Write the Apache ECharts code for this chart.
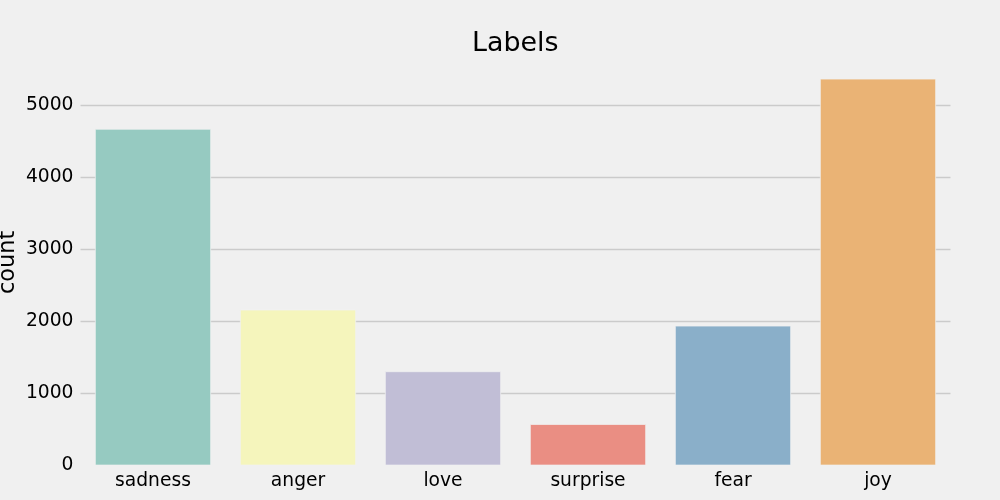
<!DOCTYPE html>
<html>
<head>
<meta charset="utf-8">
<style>
html,body{margin:0;padding:0;background:#f0f0f0;}
#chart{width:1000px;height:500px;}
</style>
<script src="https://cdn.jsdelivr.net/npm/echarts@6/dist/echarts.min.js"></script>
</head>
<body>
<div id="chart"></div>
<script>
const categories = ['sadness', 'anger', 'love', 'surprise', 'fear', 'joy'];
const counts = [4666, 2159, 1304, 572, 1937, 5362];
const barColors = ['#96cac1', '#f5f5bc', '#c1bed6', '#ea8e83', '#8aafc9', '#eab375'];
const yTicks = [0, 1000, 2000, 3000, 4000, 5000];

const chart = echarts.init(document.getElementById('chart'), null, {renderer: 'canvas'});
const font = 'DejaVu Sans';
chart.setOption({
  backgroundColor: '#f0f0f0',
  animation: false,
  title: {
    text: 'Labels',
    left: 472,
    top: 31,
    padding: 0,
    textStyle: {fontFamily: font, fontSize: 26.9, fontWeight: 'normal', color: '#000'}
  },
  grid: {left: 80.5, right: 49.5, top: 59.4, bottom: 34.6, containLabel: false, outerBoundsMode: 'none'},
  xAxis: {
    type: 'category',
    data: categories,
    axisLine: {show: false},
    axisTick: {show: false},
    axisLabel: {fontFamily: font, fontSize: 18.7, color: '#000', margin: 6}
  },
  yAxis: {
    type: 'value',
    min: 0,
    max: 5630,
    interval: 1000,
    name: 'count',
    nameLocation: 'middle',
    nameRotate: 90,
    nameGap: 61,
    nameMoveOverlap: false,
    nameTextStyle: {fontFamily: font, fontSize: 22.4, color: '#000'},
    axisLine: {show: false},
    axisTick: {show: false},
    axisLabel: {fontFamily: font, fontSize: 18.7, color: '#000', margin: 7, showMaxLabel: false,
      formatter: v => (yTicks.indexOf(v) >= 0 ? String(v) : '')},
    splitLine: {show: true, showMinLine: false, showMaxLine: false, lineStyle: {color: '#cbcbcb', width: 1.3}}
  },
  series: [{
    type: 'bar',
    data: counts.map((v, i) => ({value: v, itemStyle: {color: barColors[i]}})),
    barCategoryGap: '20%',
    itemStyle: {borderColor: '#f0f0f0', borderWidth: 0.7}
  }]
});
</script>
</body>
</html>
